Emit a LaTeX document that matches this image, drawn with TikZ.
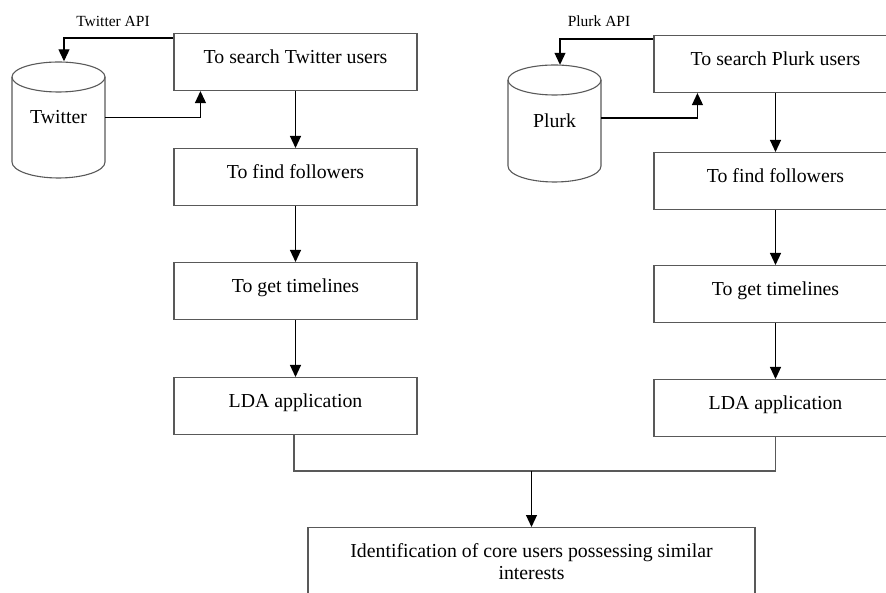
\documentclass[tikz,border=0pt]{standalone}
\usepackage{fontspec}
\setmainfont{Liberation Serif}
\usetikzlibrary{arrows.meta}
\begin{document}
\begin{tikzpicture}[x=1pt,y=-1pt,
  boxline/.style={draw=black!65, line width=1.1pt},
  stepbox/.style={boxline, rectangle, minimum width=243pt, minimum height=57pt,
    inner xsep=0pt, inner ysep=0pt, text height=29.5pt, text depth=27.5pt, anchor=north,
    font=\fontsize{19.8}{22}\selectfont},
  dbnode/.style={rectangle, minimum width=93pt, minimum height=116pt, inner sep=0pt,
    font=\fontsize{19.8}{22}\selectfont},
  apilabel/.style={font=\fontsize{15.5}{18}\selectfont, inner sep=0pt},
  conn/.style={draw=black, line width=1.1pt, -{Triangle[length=12pt,width=11pt]}},
  link/.style={draw=black!65, line width=1.1pt}]
\useasboundingbox (0,0) rectangle (886,593);
\clip (0,0) rectangle (886,593);

% left column
\node[stepbox] (t1) at (295.5,33) {To search Twitter users};
\node[stepbox] (t2) at (295.5,148) {To find followers};
\node[stepbox] (t3) at (295.5,262) {To get timelines};
\node[stepbox] (t4) at (295.5,377) {LDA application};

% right column
\node[stepbox] (p1) at (775.5,35) {To search Plurk users};
\node[stepbox] (p2) at (775.5,152) {To find followers};
\node[stepbox] (p3) at (775.5,265) {To get timelines};
\node[stepbox] (p4) at (775.5,379) {LDA application};

% final box
\node[boxline, rectangle, anchor=north, minimum width=447pt, inner xsep=0pt, inner ysep=16pt,
  align=center, font=\fontsize{19.8}{21.7}\selectfont] (fin) at (531.5,527)
  {Identification of core users possessing similar\\interests};

% cylinders
\draw[boxline] (58.5,77) ellipse [x radius=46.5, y radius=15];
\draw[boxline] (12,77) -- (12,162) arc[start angle=180, end angle=0, x radius=46.5, y radius=16] -- (105,77);
\node[dbnode] (tw) at (58.5,119.5) {\raisebox{4.5pt}{Twitter}};
\draw[boxline] (554.5,80) ellipse [x radius=46.5, y radius=15];
\draw[boxline] (508,80) -- (508,166) arc[start angle=180, end angle=0, x radius=46.5, y radius=16] -- (601,80);
\node[dbnode] (pl) at (554.5,123) {\raisebox{4.5pt}{Plurk}};

% API labels
\node[apilabel] (tapi) at (113,21) {Twitter API};
\node[apilabel] (papi) at (599,21) {Plurk API};

% cylinder connectors
\draw[conn] ([yshift=-5pt]t1.north west) -| ([xshift=5.5pt]tw.north);
\draw[conn] ([yshift=2pt]tw.east) -| ([xshift=27pt]t1.south west);
\draw[conn] ([yshift=-4pt]p1.north west) -| ([xshift=5.5pt]pl.north);
\draw[conn] ([yshift=5pt]pl.east) -| ([xshift=44pt]p1.south west);

% vertical arrows
\draw[conn] (t1) -- (t2);
\draw[conn] (t2) -- (t3);
\draw[conn] (t3) -- (t4);
\draw[conn] (p1) -- (p2);
\draw[conn] (p2) -- (p3);
\draw[conn] (p3) -- (p4);

% merge
\coordinate (mg) at (531.5,471);
\draw[link] ([xshift=-1.5pt]t4.south) |- (mg) -| (p4.south);
\draw[conn] (mg) -- (fin.north);
\end{tikzpicture}
\end{document}
